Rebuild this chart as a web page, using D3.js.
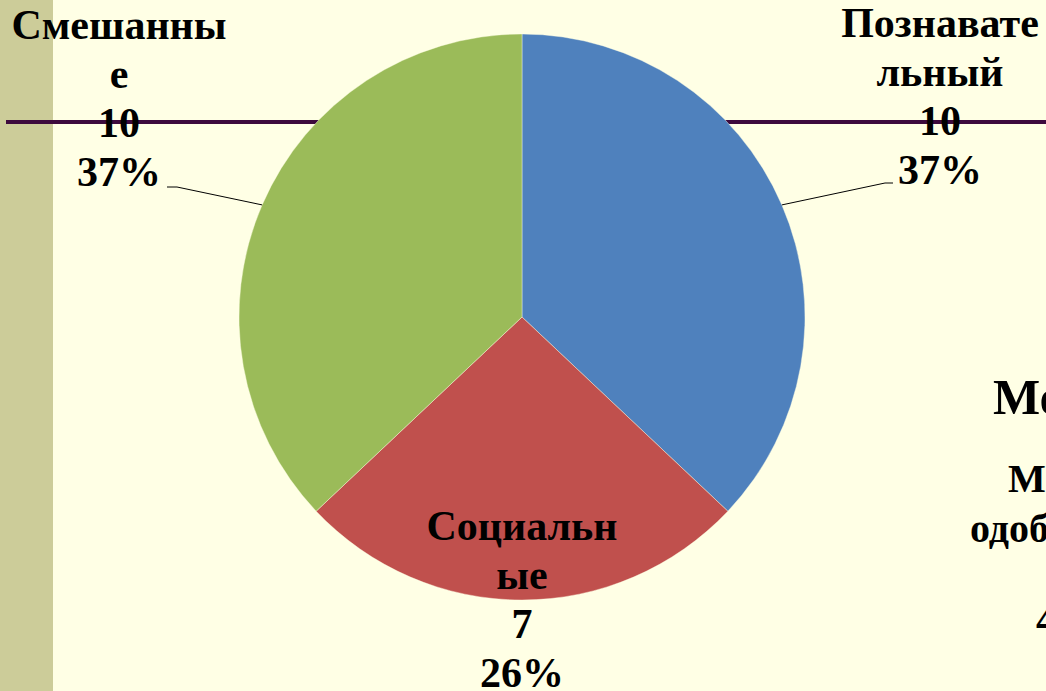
<!DOCTYPE html>
<html>
<head>
<meta charset="utf-8">
<script src="https://cdn.jsdelivr.net/npm/d3@7"></script>
<style>
  html, body { margin: 0; padding: 0; background: #FFFFE5; overflow: hidden; }
  svg { display: block; }
</style>
</head>
<body>
<div id="chart"></div>
<script>
// Data
const categories = ["Познавательный", "Социальные", "Смешанные"];
const values = [10, 7, 10];
const labelLines = [["Познавате", "льный"], ["Социальн", "ые"], ["Смешанны", "е"]];
const colors = ["#4F81BD", "#C0504D", "#9BBB59"];

const width = 1046;
const height = 691;
const cx = 522, cy = 317, radius = 283;
const font = "'Liberation Serif', 'Times New Roman', serif";

// label layout: text centre x, first baseline y, leader elbow / end
const labelLayout = [
    { x: 940, y: 37, elbow: [885, 183], end: [893, 183] },
    { x: 522, y: 540, elbow: null, end: null },
    { x: 119, y: 39, elbow: [177, 187], end: [167, 187] }
];
const lineStep = 49;

const svg = d3.select("#chart").append("svg")
    .attr("width", width)
    .attr("height", height);

// slide background
svg.append("rect").attr("width", width).attr("height", height).attr("fill", "#FFFFE5");
svg.append("rect").attr("width", 53).attr("height", height).attr("fill", "#CCCC99");
svg.append("line")
    .attr("x1", 6).attr("x2", width)
    .attr("y1", 122).attr("y2", 122)
    .attr("stroke", "#3D0A3D").attr("stroke-width", 4);

// text from the slide, cut off at the right edge as in the original
const side = svg.append("g").attr("font-family", font).attr("font-weight", "bold").attr("fill", "#000");
side.append("text").attr("x", 993).attr("y", 414).attr("font-size", 50).text("Мо");
side.append("text").attr("x", 1008).attr("y", 492).attr("font-size", 40).text("М");
side.append("text").attr("x", 970).attr("y", 542).attr("font-size", 40).text("одоб");
side.append("text").attr("x", 1036).attr("y", 633).attr("font-size", 40).text("4");

// pie
const total = d3.sum(values);
const pie = d3.pie().sort(null).value(d => d)(values);
const arc = d3.arc().innerRadius(0).outerRadius(radius);

const g = svg.append("g").attr("transform", `translate(${cx},${cy})`);
g.selectAll("path")
    .data(pie)
    .join("path")
    .attr("d", arc)
    .attr("fill", (d, i) => colors[i])
    .attr("stroke", "#FFFFE5")
    .attr("stroke-width", 0.4);

// leader lines from the slice mid-angle on the rim
pie.forEach((d, i) => {
    const L = labelLayout[i];
    if (!L.elbow) return;
    const a = (d.startAngle + d.endAngle) / 2;
    const px = cx + Math.sin(a) * radius;
    const py = cy - Math.cos(a) * radius;
    svg.append("polyline")
        .attr("points", [[px, py], L.elbow, L.end].map(p => p.join(",")).join(" "))
        .attr("fill", "none")
        .attr("stroke", "#000")
        .attr("stroke-width", 1);
});

// labels
pie.forEach((d, i) => {
    const L = labelLayout[i];
    const lines = labelLines[i].concat([String(values[i]), Math.round(values[i] / total * 100) + "%"]);
    const t = svg.append("text")
        .attr("font-family", font)
        .attr("font-size", 42)
        .attr("font-weight", "bold")
        .attr("text-anchor", "middle")
        .attr("fill", "#000");
    lines.forEach((s, k) => {
        t.append("tspan").attr("x", L.x).attr("y", L.y + k * lineStep).text(s);
    });
});
</script>
</body>
</html>
